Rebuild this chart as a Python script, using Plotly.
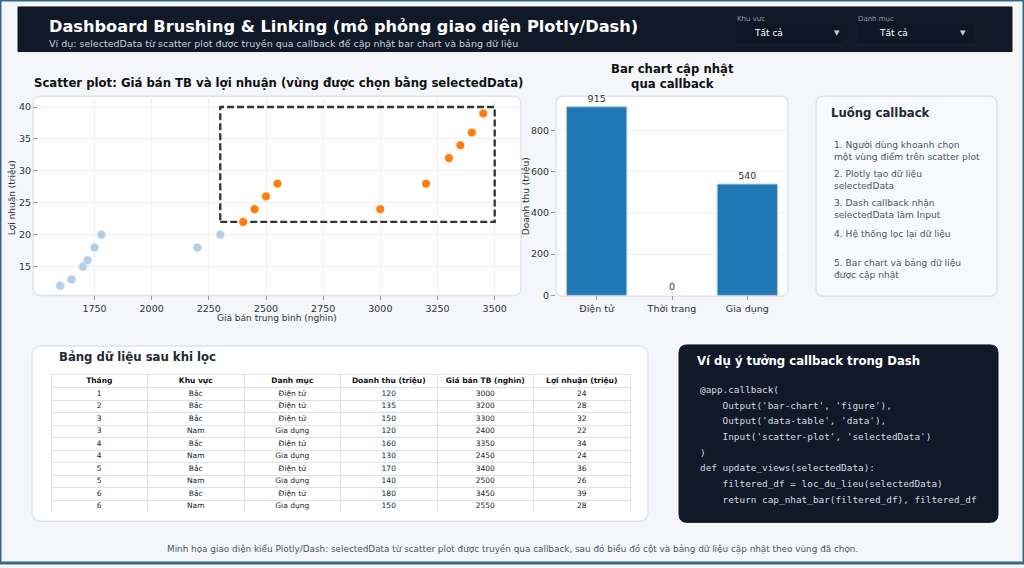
import plotly.graph_objects as go

W, H = 1024, 568
FONT = "DejaVu Sans"
MONO = "DejaVu Sans Mono"

# --- data ---
other_price = [1600, 1650, 1700, 1720, 1750, 1780, 2200, 2300]
other_profit = [12, 13, 15, 16, 18, 20, 18, 20]

months = [1, 2, 3, 3, 4, 4, 5, 5, 6, 6]
regions = ["Bắc", "Bắc", "Bắc", "Nam", "Bắc", "Nam", "Bắc", "Nam", "Bắc", "Nam"]
categories = ["Điện tử", "Điện tử", "Điện tử", "Gia dụng", "Điện tử", "Gia dụng",
              "Điện tử", "Gia dụng", "Điện tử", "Gia dụng"]
revenue = [120, 135, 150, 120, 160, 130, 170, 140, 180, 150]
sel_price = [3000, 3200, 3300, 2400, 3350, 2450, 3400, 2500, 3450, 2550]
sel_profit = [24, 28, 32, 22, 34, 24, 36, 26, 39, 28]

bar_cats = ["Điện tử", "Thời trang", "Gia dụng"]
bar_values = [915, 0, 540]

table_cols = ["Tháng", "Khu vực", "Danh mục", "Doanh thu (triệu)", "Giá bán TB (nghìn)", "Lợi nhuận (triệu)"]

sel_box = dict(x0=2300, x1=3500, y0=22, y1=40)

flow_steps = [
    ("1. Người dùng khoanh chọn<br>một vùng điểm trên scatter plot", 152),
    ("2. Plotly tạo dữ liệu<br>selectedData", 182),
    ("3. Dash callback nhận<br>selectedData làm Input", 211),
    ("4. Hệ thống lọc lại dữ liệu", 237),
    ("5. Bar chart và bảng dữ liệu<br>được cập nhật", 272),
]

code_lines = [
    "@app.callback(",
    "    Output('bar-chart', 'figure'),",
    "    Output('data-table', 'data'),",
    "    Input('scatter-plot', 'selectedData')",
    ")",
    "def update_views(selectedData):",
    "    filtered_df = loc_du_lieu(selectedData)",
    "    return cap_nhat_bar(filtered_df), filtered_df",
]


def px(x):
    return x / W


def py(y):
    return 1 - y / H


def rrect(x0, y0, x1, y1, r, fill, line, width=1):
    p = (f"M {px(x0 + r)},{py(y0)} L {px(x1 - r)},{py(y0)} Q {px(x1)},{py(y0)} {px(x1)},{py(y0 + r)} "
         f"L {px(x1)},{py(y1 - r)} Q {px(x1)},{py(y1)} {px(x1 - r)},{py(y1)} "
         f"L {px(x0 + r)},{py(y1)} Q {px(x0)},{py(y1)} {px(x0)},{py(y1 - r)} "
         f"L {px(x0)},{py(y0 + r)} Q {px(x0)},{py(y0)} {px(x0 + r)},{py(y0)} Z")
    return dict(type="path", path=p, xref="paper", yref="paper", fillcolor=fill,
                line=dict(color=line, width=width), layer="below")


def box(x0, y0, x1, y1, fill, line, width=1):
    return dict(type="rect", xref="paper", yref="paper", x0=px(x0), x1=px(x1), y0=py(y1), y1=py(y0),
                fillcolor=fill, line=dict(color=line, width=width), layer="below")


fig = go.Figure()

# scatter: unselected + selected points
fig.add_trace(go.Scatter(x=other_price, y=other_profit, mode="markers", xaxis="x", yaxis="y",
                         marker=dict(size=8.5, color="#b3cfe7", line=dict(color="#dde9f4", width=0.8)),
                         showlegend=False))
fig.add_trace(go.Scatter(x=sel_price, y=sel_profit, mode="markers", xaxis="x", yaxis="y",
                         marker=dict(size=9, color="#ff7f0e", line=dict(color="white", width=0.8)),
                         showlegend=False))

# bar chart
fig.add_trace(go.Bar(x=[0, 1, 2], y=bar_values, xaxis="x2", yaxis="y2", width=0.8,
                     marker=dict(color="#1f77b4",
                                 line=dict(color="#a9c9e3", width=[1 if v else 0 for v in bar_values])),
                     text=[str(v) for v in bar_values], textposition="outside", cliponaxis=False,
                     textfont=dict(size=9.5, color="#333333", family=FONT), showlegend=False))

# table: plotly puts text 8px below a row's top, so the grid and the text are two
# tables, the text one lifted a few px to sit centred in the small rows
ROW_H = 12.5
HEAD_H = 13
TOP, BOTTOM = 378, 517
LIFT = 5.5
header_vals = [c.replace(" ", "\u00a0") for c in table_cols]
cell_vals = [months, regions, categories, revenue, sel_price, sel_profit]
fig.add_trace(go.Table(
    domain=dict(x=[px(51), px(630)], y=[py(BOTTOM), py(TOP)]),
    columnwidth=[1] * 6,
    header=dict(values=[""] * 6, fill_color="white", line_color="#dde2e8", height=HEAD_H),
    cells=dict(values=[[""] * len(months)] * 6, fill_color="white", line_color="#dde2e8", height=ROW_H),
))
fig.add_trace(go.Table(
    domain=dict(x=[px(51), px(630)], y=[py(BOTTOM + 4), py(TOP - LIFT)]),
    columnwidth=[1] * 6,
    header=dict(values=header_vals, fill_color="rgba(0,0,0,0)", line_color="rgba(0,0,0,0)", height=HEAD_H,
                align="center", font=dict(size=7.5, color="#111111", family=FONT, weight="bold")),
    cells=dict(values=cell_vals, fill_color="rgba(0,0,0,0)", line_color="rgba(0,0,0,0)", height=ROW_H,
               align="center", font=dict(size=7.5, color="#222222", family=FONT)),
))

shapes = [
    # outer border
    dict(type="rect", xref="paper", yref="paper", x0=0, x1=1, y0=0, y1=1,
         line=dict(color="#2e6a8c", width=3), fillcolor="rgba(0,0,0,0)", layer="below"),
    # header band with two dropdowns
    box(18, 7, 1012, 52, "#111827", "#111827"),
    box(735, 21, 846, 45, "#0f1726", "#171f2d"),
    box(856, 21, 976, 45, "#0f1726", "#171f2d"),
    # panels
    rrect(33, 97, 521, 298, 8, "white", "#dfe4ec", 1.5),
    rrect(556, 97, 788, 299, 8, "white", "#dfe4ec", 1.5),
    rrect(816, 97, 997, 299, 8, "#f8f9fc", "#dfe4ec", 1.5),
    rrect(32, 349, 648, 526, 10, "white", "#dfe4ec", 1.5),
    rrect(679, 348, 998, 527, 8, "#111827", "#111827", 1),
    # selection box on the scatter
    dict(type="rect", xref="x", yref="y", layer="between", fillcolor="rgba(0,0,0,0)",
         line=dict(color="#333333", width=2.3, dash="7px,3px"), **sel_box),
]

ann = []


def note(x, y, text, size, color, bold=False, xanchor="left", family=FONT, angle=0, align="left"):
    ann.append(dict(x=px(x), y=py(y), xref="paper", yref="paper", text=text, showarrow=False,
                    xanchor=xanchor, yanchor="middle", textangle=angle, align=align,
                    font=dict(size=size, color=color, family=family, weight="bold" if bold else "normal")))


# header
note(47, 27, "Dashboard Brushing & Linking (mô phỏng giao diện Plotly/Dash)", 16.2, "white", bold=True)
note(47, 44, "Ví dụ: selectedData từ scatter plot được truyền qua callback để cập nhật bar chart và bảng dữ liệu",
     9.5, "#c8d0dc")
note(735, 19, "Khu vực", 7, "#8f98a6")
note(856, 19, "Danh mục", 7, "#8f98a6")
note(752, 33, "Tất cả", 9, "white")
note(877, 33, "Tất cả", 9, "white")
note(837, 33, "▼", 7, "#c8d0dc", xanchor="center")
note(963, 33, "▼", 7, "#c8d0dc", xanchor="center")

# scatter titles
note(278, 84, "Scatter plot: Giá bán TB và lợi nhuận (vùng được chọn bằng selectedData)", 11.7, "#111111",
     bold=True, xanchor="center")
note(277, 321, "Giá bán trung bình (nghìn)", 9, "#333333", xanchor="center")
note(12, 200, "Lợi nhuận (triệu)", 9, "#333333", xanchor="center", angle=-90)

# bar titles
note(672, 77, "Bar chart cập nhật<br>qua callback", 11.7, "#111111", bold=True, xanchor="center", align="center")
note(526, 198, "Doanh thu (triệu)", 9, "#333333", xanchor="center", angle=-90)

# callback flow
note(829, 114, "Luồng callback", 11.7, "#1f2937", bold=True)
for txt, yy in flow_steps:
    note(832, yy, txt, 9.1, "#4b5563")

# table title
note(57, 360, "Bảng dữ liệu sau khi lọc", 11.7, "#1f2937", bold=True)

# code panel
note(695, 364, "Ví dụ ý tưởng callback trong Dash", 11.7, "white", bold=True)
for i, line in enumerate(code_lines):
    note(698, 393 + i * 15.8, line.replace(" ", "&nbsp;"), 9.4, "#d6dbe3", family=MONO)

# footer
note(512, 554, "Minh họa giao diện kiểu Plotly/Dash: selectedData từ scatter plot được truyền qua callback, "
               "sau đó biểu đồ cột và bảng dữ liệu cập nhật theo vùng đã chọn.", 8.85, "#4b5563", xanchor="center")

tick_font = dict(size=9.5, color="#333333", family=FONT)
axis_common = dict(zeroline=False, showline=False, ticks="outside", ticklen=4, tickcolor="#999999",
                   tickfont=tick_font, gridcolor="#eef0f4")
fig.update_layout(
    autosize=True,
    margin=dict(l=0, r=0, t=0, b=0),
    paper_bgcolor="#f4f6fa",
    plot_bgcolor="rgba(0,0,0,0)",
    shapes=shapes,
    annotations=ann,
    xaxis=dict(domain=[px(38), px(521)], range=[1503, 3615],
               tickvals=[1750, 2000, 2250, 2500, 2750, 3000, 3250, 3500], showgrid=True, **axis_common),
    yaxis=dict(domain=[py(298), py(97)], range=[10.5, 41.7], tickvals=[15, 20, 25, 30, 35, 40],
               showgrid=True, **axis_common),
    xaxis2=dict(domain=[px(556), px(788)], range=[-0.54, 2.54], tickvals=[0, 1, 2], ticktext=bar_cats,
                showgrid=False, anchor="y2", **axis_common),
    yaxis2=dict(domain=[py(298), py(97)], range=[0, 967], tickvals=[0, 200, 400, 600, 800],
                showgrid=True, anchor="x2", **axis_common),
)

fig.write_html("out.html", config={"displayModeBar": False}, default_width="100vw", default_height="100vh",
               post_script="document.body.style.margin='0';document.documentElement.style.overflow='hidden';"
                           "document.body.style.overflow='hidden';")
